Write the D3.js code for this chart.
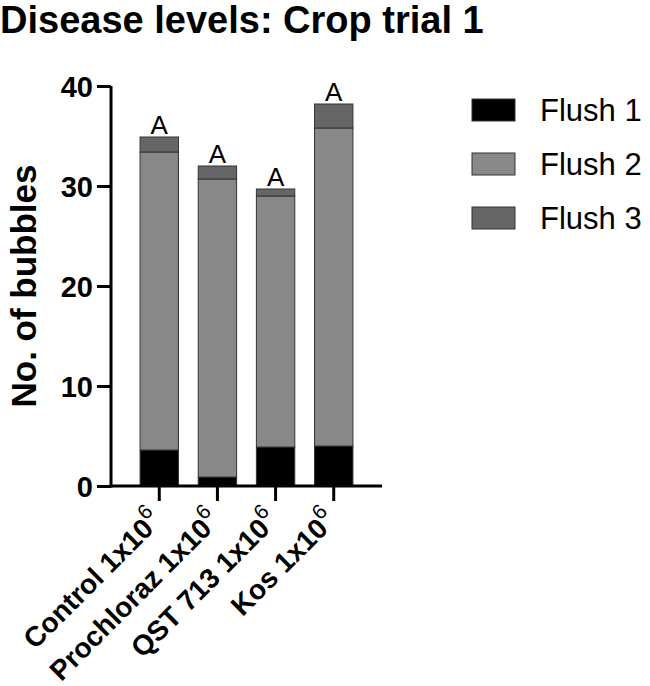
<!DOCTYPE html>
<html>
<head>
<meta charset="utf-8">
<script src="https://cdn.jsdelivr.net/npm/d3@7"></script>
<style>
  html, body { margin: 0; padding: 0; background: #fff; }
  svg { display: block; font-family: "Liberation Sans", Arial, sans-serif; }
</style>
</head>
<body>
<div id="chart"></div>
<script>
// values
const treatments = ['Control', 'Prochloraz', 'QST 713', 'Kos'];
const flush1 = [3.6, 0.9, 3.9, 4.0];
const flush2 = [29.8, 29.8, 25.1, 31.8];
const flush3 = [1.5, 1.3, 0.7, 2.4];
const letters = ['A', 'A', 'A', 'A'];
const yTicks = [0, 10, 20, 30, 40];
const seriesNames = ['Flush 1', 'Flush 2', 'Flush 3'];
const seriesColors = ['#000000', '#888888', '#666666'];

const W = 650, H = 686;
const m = { t: 86, l: 111, b: 200, r: 268 };
const font = '"Liberation Sans", Arial, sans-serif';

const svg = d3.select('#chart').append('svg').attr('width', W).attr('height', H);

svg.append('text').attr('x', 0).attr('y', 33)
  .attr('font-size', 38).attr('font-weight', 'bold').attr('fill', '#000')
  .text('Disease levels: Crop trial 1');

const x = d3.scaleBand().domain(treatments).range([m.l, 382]).paddingInner(0.34).paddingOuter(0.5);
const y = d3.scaleLinear().domain([0, 40]).range([486, 86]);

const rows = treatments.map((t, i) => ({ t, f1: flush1[i], f2: flush2[i], f3: flush3[i] }));
const stack = d3.stack().keys(['f1', 'f2', 'f3'])(rows);

stack.forEach((layer, k) => {
  svg.append('g').selectAll('rect').data(layer).join('rect')
    .attr('x', d => x(d.data.t))
    .attr('width', x.bandwidth())
    .attr('y', d => y(d[1]))
    .attr('height', d => y(d[0]) - y(d[1]))
    .attr('fill', seriesColors[k])
    .attr('stroke', '#333').attr('stroke-width', 1);
});

// significance letters
svg.append('g').selectAll('text').data(rows).join('text')
  .attr('x', d => x(d.t) + x.bandwidth() / 2)
  .attr('y', d => y(d.f1 + d.f2 + d.f3) - 3)
  .attr('text-anchor', 'middle').attr('font-size', 26).attr('fill', '#000')
  .text((d, i) => letters[i]);

// y axis
const yAxis = svg.append('g').attr('transform', `translate(${m.l},0)`)
  .call(d3.axisLeft(y).tickValues(yTicks).tickSize(14).tickPadding(4));
yAxis.select('.domain').attr('stroke', '#000').attr('stroke-width', 3)
  .attr('d', `M0,${y(0) + 1.5}V${y(40)}`);
yAxis.selectAll('.tick line').attr('stroke', '#000').attr('stroke-width', 3);
yAxis.selectAll('.tick text').attr('font-size', 29).attr('font-weight', 'bold')
  .attr('fill', '#000').attr('font-family', font).attr('dy', '0.36em');

// x axis
const xAxis = svg.append('g').attr('transform', `translate(0,${y(0)})`)
  .call(d3.axisBottom(x).tickSize(15).tickFormat(''));
xAxis.select('.domain').attr('stroke', '#000').attr('stroke-width', 3)
  .attr('d', `M${m.l - 1.5},0H382`);
xAxis.selectAll('.tick line').attr('stroke', '#000').attr('stroke-width', 3);

// rotated category labels with superscript exponent
const lab = svg.append('g').selectAll('text').data(treatments).join('text')
  .attr('transform', d => `translate(${x(d) + x.bandwidth() / 2 + 4},${y(0) + 36}) rotate(-45)`)
  .attr('text-anchor', 'end').attr('font-size', 28).attr('font-weight', 'bold').attr('fill', '#000');
lab.append('tspan').text(d => d + ' 1x10');
lab.append('tspan').attr('dy', -13).attr('font-size', 21).attr('font-weight', 'normal').text('6');

// y axis title
svg.append('text')
  .attr('transform', `translate(36,${(y(0) + y(40)) / 2}) rotate(-90)`)
  .attr('text-anchor', 'middle').attr('font-size', 35).attr('font-weight', 'bold').attr('fill', '#000')
  .text('No. of bubbles');

// legend
const leg = svg.append('g').attr('transform', 'translate(472,99)');
seriesNames.forEach((name, i) => {
  const gi = leg.append('g').attr('transform', `translate(0,${i * 54})`);
  gi.append('rect').attr('width', 43).attr('height', 22)
    .attr('fill', seriesColors[i]).attr('stroke', '#333').attr('stroke-width', 1);
  gi.append('text').attr('x', 68).attr('y', 22).attr('font-size', 31).attr('fill', '#000').text(name);
});
</script>
</body>
</html>
